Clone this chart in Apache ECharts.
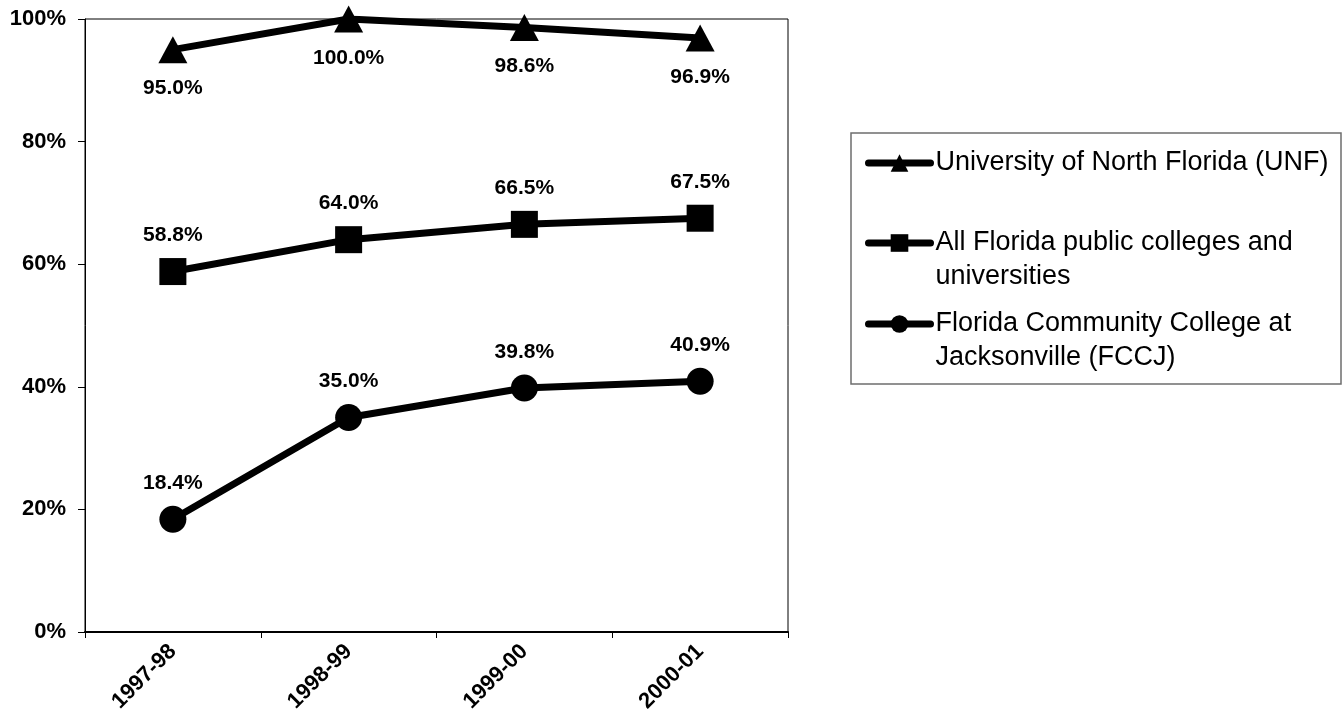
<!DOCTYPE html>
<html>
<head>
<meta charset="utf-8">
<script src="https://cdn.jsdelivr.net/npm/echarts@6/dist/echarts.min.js"></script>
<style>
  html, body { margin: 0; padding: 0; background: #fff; }
  #chart { width: 1343px; height: 719px; }
</style>
</head>
<body>
<div id="chart"></div>
<script>
// Academic years on the category axis
const years = ['1997-98', '1998-99', '1999-00', '2000-01'];

// Percentages per institution group
const unfValues = [95.0, 100.0, 98.6, 96.9];
const allFloridaValues = [58.8, 64.0, 66.5, 67.5];
const fccjValues = [18.4, 35.0, 39.8, 40.9];

// Series names as shown in the legend
const unfName = 'University of North Florida (UNF)';
const allFloridaName = 'All Florida public colleges and universities';
const fccjName = 'Florida Community College at Jacksonville (FCCJ)';

// Legend text, broken into lines (a blank first line keeps the marker on the first text line)
const legendText = {};
legendText[unfName] = 'University of North Florida (UNF)';
legendText[allFloridaName] = ' \nAll Florida public colleges and\nuniversities';
legendText[fccjName] = ' \nFlorida Community College at\nJacksonville (FCCJ)';

const FONT = '"Liberation Sans", Arial, sans-serif';

const chart = echarts.init(document.getElementById('chart'), null, { renderer: 'canvas' });

function makeSeries(name, values, symbol, symbolSize, labelPos, labelDist) {
  return {
    name: name,
    type: 'line',
    data: values,
    symbol: symbol,
    symbolSize: symbolSize,
    showAllSymbol: true,
    lineStyle: { color: '#000', width: 7 },
    itemStyle: { color: '#000' },
    label: {
      show: true,
      position: labelPos,
      distance: labelDist,
      color: '#000',
      fontFamily: FONT,
      fontWeight: 'bold',
      fontSize: 21,
      formatter: p => p.value.toFixed(1) + '%'
    },
    emphasis: { disabled: true },
    animation: false
  };
}

function makeLegend(name, top) {
  return {
    data: [name],
    orient: 'vertical',
    left: 865,
    top: top,
    padding: 0,
    itemWidth: 62,
    itemHeight: 22,
    selectedMode: false,
    formatter: n => legendText[n],
    lineStyle: { width: 7, cap: 'round' },
    textStyle: {
      color: '#000',
      fontFamily: FONT,
      fontSize: 27,
      lineHeight: 34
    }
  };
}

const option = {
  backgroundColor: '#fff',
  animation: false,
  grid: {
    left: 85, right: 555, top: 19, bottom: 87,
    show: true, borderColor: '#000', borderWidth: 1,
    containLabel: false
  },
  xAxis: {
    type: 'category',
    data: years,
    boundaryGap: true,
    axisLine: { lineStyle: { color: '#000', width: 2 } },
    axisTick: { show: true, length: 6, lineStyle: { color: '#000', width: 1 } },
    axisLabel: {
      rotate: 45,
      margin: 16,
      color: '#000',
      fontFamily: FONT,
      fontWeight: 'bold',
      fontSize: 22
    },
    splitLine: { show: false }
  },
  yAxis: {
    type: 'value',
    min: 0,
    max: 100,
    interval: 20,
    axisLine: { show: true, lineStyle: { color: '#000', width: 1 } },
    axisTick: { show: true, length: 7, lineStyle: { color: '#000', width: 1 } },
    axisLabel: {
      margin: 19,
      color: '#000',
      fontFamily: FONT,
      fontWeight: 'bold',
      fontSize: 22,
      formatter: '{value}%'
    },
    splitLine: { show: false }
  },
  legend: [
    makeLegend(unfName, 146),
    makeLegend(allFloridaName, 192),
    makeLegend(fccjName, 273)
  ],
  graphic: [{
    type: 'rect',
    shape: { x: 851, y: 133, width: 490, height: 251 },
    style: { fill: 'none', stroke: '#6e6e6e', lineWidth: 1.5 },
    silent: true
  }],
  series: [
    makeSeries(unfName, unfValues, 'triangle', [29, 27], 'bottom', 15),
    makeSeries(allFloridaName, allFloridaValues, 'rect', 27, 'top', 12),
    makeSeries(fccjName, fccjValues, 'circle', 27, 'top', 12)
  ]
};

chart.setOption(option);
</script>
</body>
</html>
